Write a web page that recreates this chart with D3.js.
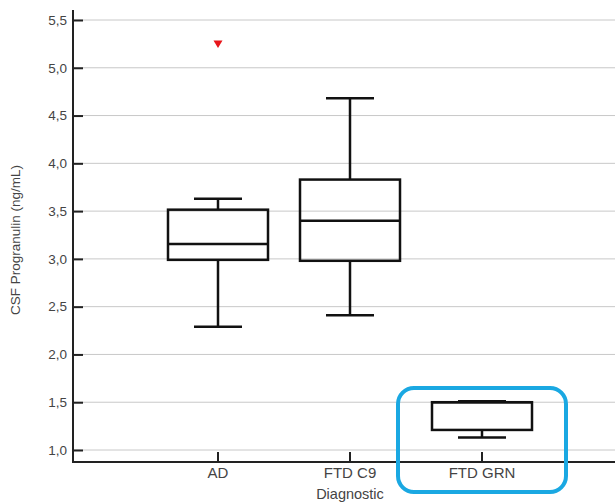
<!DOCTYPE html>
<html><head><meta charset="utf-8">
<script src="https://cdn.jsdelivr.net/npm/d3@7"></script>
<style>body{margin:0;background:#fff}svg{display:block}text{font-family:"Liberation Sans",Arial,sans-serif}</style>
</head><body>
<svg id="c" width="615" height="502"></svg>
<script>
const categories = ["AD", "FTD C9", "FTD GRN"];
const q1 = [2.99, 2.98, 1.21];
const median = [3.155, 3.40, 1.50];
const q3 = [3.515, 3.83, 1.50];
const whiskerLow = [2.29, 2.41, 1.13];
const whiskerHigh = [3.63, 4.68, 1.51];
const outliers = [{cat: "AD", value: 5.25}];
const yTicks = [1.0, 1.5, 2.0, 2.5, 3.0, 3.5, 4.0, 4.5, 5.0, 5.5];
const highlight = "FTD GRN";

const svg = d3.select("#c");
const y = d3.scaleLinear().domain([1.0, 5.5]).range([450, 20]);
const x = d3.scaleBand().domain(categories).range([152, 548]);
const cx = c => x(c) + x.bandwidth() / 2;
const boxW = 100, capW = 48;

// grid
svg.append("g").selectAll("line").data(yTicks).join("line")
  .attr("x1", 74).attr("x2", 615)
  .attr("y1", d => y(d)).attr("y2", d => y(d))
  .attr("stroke", "#c8c8c8").attr("stroke-width", 1);

// y axis
const yAxis = svg.append("g").attr("transform", "translate(73,0)")
  .call(d3.axisRight(y).tickValues(yTicks).tickSize(10).tickFormat(d => d3.format(".1f")(d).replace(".", ",")));
yAxis.select(".domain").remove();
yAxis.selectAll(".tick line").attr("stroke", "#222").attr("stroke-width", 2);
yAxis.selectAll(".tick text").attr("x", -6).attr("text-anchor", "end")
  .attr("fill", "#444").style("font-size", "13.5px");
svg.append("line").attr("x1", 73).attr("x2", 73).attr("y1", 10).attr("y2", 463)
  .attr("stroke", "#222").attr("stroke-width", 2);

// x axis ticks
svg.append("g").selectAll("line").data(categories).join("line")
  .attr("x1", d => cx(d)).attr("x2", d => cx(d)).attr("y1", 452).attr("y2", 462)
  .attr("stroke", "#222").attr("stroke-width", 2);
svg.append("line").attr("x1", 72).attr("x2", 615).attr("y1", 462).attr("y2", 462)
  .attr("stroke", "#222").attr("stroke-width", 2);
svg.append("g").selectAll("text").data(categories).join("text")
  .attr("x", d => cx(d)).attr("y", 478).attr("text-anchor", "middle")
  .attr("fill", "#444").style("font-size", "15px").text(d => d);

// axis titles
svg.append("text").attr("x", 350).attr("y", 499).attr("text-anchor", "middle")
  .attr("fill", "#444").style("font-size", "14.5px").text("Diagnostic");
svg.append("text").attr("transform", "translate(20,240) rotate(-90)").attr("text-anchor", "middle")
  .attr("fill", "#444").style("font-size", "13.5px").text("CSF Progranulin (ng/mL)");

// boxes
const g = svg.append("g").attr("stroke", "#111").attr("stroke-width", 2.5).attr("fill", "none");
categories.forEach((c, i) => {
  const m = cx(c);
  g.append("line").attr("x1", m).attr("x2", m).attr("y1", y(q3[i])).attr("y2", y(whiskerHigh[i]));
  g.append("line").attr("x1", m).attr("x2", m).attr("y1", y(q1[i])).attr("y2", y(whiskerLow[i]));
  g.append("line").attr("x1", m - capW / 2).attr("x2", m + capW / 2).attr("y1", y(whiskerHigh[i])).attr("y2", y(whiskerHigh[i]));
  g.append("line").attr("x1", m - capW / 2).attr("x2", m + capW / 2).attr("y1", y(whiskerLow[i])).attr("y2", y(whiskerLow[i]));
  g.append("rect").attr("x", m - boxW / 2).attr("width", boxW)
    .attr("y", y(q3[i])).attr("height", y(q1[i]) - y(q3[i])).attr("fill", "none");
  g.append("line").attr("x1", m - boxW / 2).attr("x2", m + boxW / 2).attr("y1", y(median[i])).attr("y2", y(median[i]));
});

// outliers
svg.append("g").selectAll("path").data(outliers).join("path")
  .attr("transform", d => `translate(${cx(d.cat)},${y(d.value)})`)
  .attr("d", "M-4.5,-3.5L4.5,-3.5L0,4Z").attr("fill", "#e8161b");

// highlight
svg.append("rect").attr("x", cx(highlight) - 84).attr("y", 388).attr("width", 168).attr("height", 104)
  .attr("rx", 16).attr("fill", "none").attr("stroke", "#1aa8e2").attr("stroke-width", 4);
</script>
</body></html>
